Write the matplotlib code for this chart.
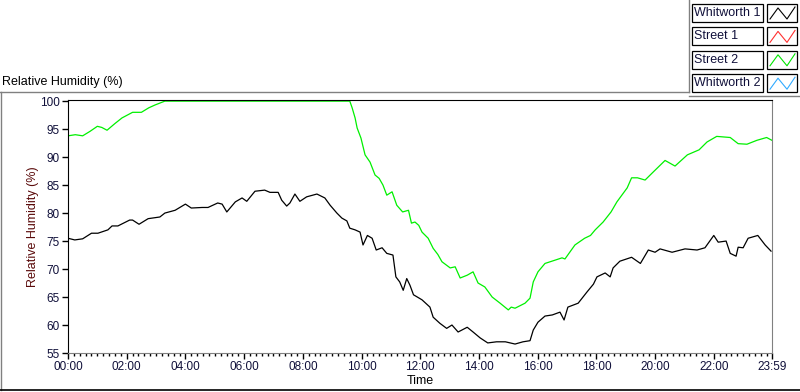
import numpy as np
import matplotlib
matplotlib.use('Agg')
import matplotlib.pyplot as plt
from matplotlib.lines import Line2D
from matplotlib.patches import Rectangle

# Relative humidity over one day

street2_t = [0.0, 0.25, 0.5, 0.75, 1.0, 1.15, 1.33, 1.6, 1.84, 2.2, 2.5, 2.75, 2.96, 3.3,
             9.6, 9.68, 9.78, 9.85, 9.98, 10.12, 10.29, 10.46, 10.6, 10.73, 10.86, 11.04,
             11.2, 11.4, 11.6, 11.7, 11.82, 11.95, 12.06, 12.27, 12.44, 12.6, 12.74, 13.02,
             13.19, 13.36, 13.6, 13.8, 13.97, 14.2, 14.45, 14.72, 15.0, 15.1, 15.23, 15.57,
             15.74, 15.85, 16.01, 16.25, 16.6, 16.83, 16.93, 17.27, 17.6, 17.8, 17.96, 18.23,
             18.5, 18.7, 19.05, 19.2, 19.4, 19.66, 19.93, 20.34, 20.68, 21.1, 21.5, 21.77,
             22.1, 22.56, 22.83, 23.13, 23.47, 23.8, 23.98]
street2_rh = [93.8, 94.0, 93.8, 94.6, 95.5, 95.3, 94.8, 96.0, 97.0, 98.0, 98.0, 98.8, 99.3, 100,
              100, 98.8, 97.0, 95.2, 93.4, 90.4, 89.1, 86.8, 86.2, 85.0, 83.2, 83.8,
              81.4, 80.2, 80.5, 78.2, 78.4, 77.8, 76.6, 75.5, 73.7, 72.6, 71.3, 70.2,
              70.4, 68.4, 68.9, 69.5, 67.5, 66.8, 65.0, 63.9, 62.7, 63.2, 63.0, 63.9,
              64.8, 67.7, 69.5, 71.0, 71.6, 72.0, 71.8, 74.3, 75.5, 76.0, 77.0, 78.4,
              80.2, 82.0, 84.5, 86.3, 86.3, 85.9, 87.3, 89.4, 88.4, 90.4, 91.3, 92.7,
              93.7, 93.5, 92.4, 92.3, 93.0, 93.5, 93.0]

whit1_t = [0.0, 0.23, 0.5, 0.8, 1.02, 1.36, 1.5, 1.7, 2.1, 2.2, 2.42, 2.73, 3.13, 3.3, 3.65,
           4.0, 4.2, 4.57, 4.77, 5.1, 5.25, 5.41, 5.7, 5.93, 6.09, 6.37, 6.7, 6.88, 7.16,
           7.28, 7.45, 7.56, 7.73, 7.9, 8.13, 8.48, 8.75, 8.93, 9.16, 9.33, 9.5, 9.6, 9.78,
           9.95, 10.05, 10.2, 10.36, 10.5, 10.7, 10.86, 11.07, 11.17, 11.3, 11.42, 11.54,
           11.65, 11.77, 11.9, 12.06, 12.33, 12.44, 12.67, 12.9, 13.08, 13.29, 13.6, 13.8,
           14.04, 14.3, 14.6, 14.9, 15.23, 15.5, 15.74, 15.85, 16.01, 16.25, 16.5, 16.76,
           16.9, 17.03, 17.38, 17.68, 17.9, 18.02, 18.3, 18.47, 18.57, 18.8, 19.2, 19.5,
           19.77, 20.0, 20.17, 20.58, 21.02, 21.43, 21.7, 22.0, 22.15, 22.42, 22.56, 22.76,
           22.83, 23.0, 23.17, 23.5, 23.75, 23.95]
whit1_rh = [75.5, 75.2, 75.4, 76.4, 76.4, 77.0, 77.7, 77.7, 78.75, 78.75, 78.0, 79.0, 79.3, 80.0, 80.5,
            81.6, 80.9, 81.0, 81.0, 81.8, 81.6, 80.2, 82.0, 82.7, 82.1, 83.9, 84.1, 83.7, 83.7,
            82.3, 81.25, 81.8, 83.4, 82.1, 82.9, 83.4, 82.7, 81.4, 80.0, 79.1, 78.6, 77.3, 77.0,
            76.6, 74.3, 76.0, 75.5, 73.4, 73.8, 72.8, 72.5, 68.6, 67.7, 66.2, 68.3,
            67.1, 65.4, 65.0, 64.5, 63.2, 61.4, 60.3, 59.4, 60.0, 58.75, 59.6, 58.75,
            57.7, 56.8, 57.0, 57.0, 56.6, 57.0, 57.2, 59.1, 60.5, 61.6, 61.8, 62.3,
            60.9, 63.2, 63.9, 65.9, 67.3, 68.6, 69.3, 68.6, 70.2, 71.4, 72.1, 71.0,
            73.4, 73.0, 73.6, 73.0, 73.6, 73.4, 73.8, 76.0, 74.8, 75.0, 72.8, 72.3,
            73.9, 73.8, 75.5, 76.0, 74.3, 73.2]

legend_names = ['Whitworth 1', 'Street 1', 'Street 2', 'Whitworth 2']
legend_colors = ['black', '#ff3030', '#00e600', '#30aaff']

x_ticks = [0, 2, 4, 6, 8, 10, 12, 14, 16, 18, 20, 22, 23 + 59 / 60]
x_labels = ['00:00', '02:00', '04:00', '06:00', '08:00', '10:00', '12:00',
            '14:00', '16:00', '18:00', '20:00', '22:00', '23:59']
y_ticks = [55, 60, 65, 70, 75, 80, 85, 90, 95, 100]

plt.rcParams['font.family'] = ['Liberation Sans', 'DejaVu Sans']

W, H = 800, 392
fig = plt.figure(figsize=(W / 100, H / 100), dpi=100)


def fx(x):
    return x / W


def fy(y):
    return 1 - y / H


# plot area in pixels: 68..772 wide, 100..353 tall
ax = fig.add_axes([fx(68), fy(353), fx(772) - fx(68), fy(100) - fy(353)])
ax.plot(whit1_t, whit1_rh, color='black', lw=0.9)
ax.plot(street2_t, street2_rh, color='#00f000', lw=0.9)

ax.set_xlim(0, 23 + 59 / 60)
ax.set_ylim(55, 100.2)  # small headroom so the 100 % plateau shows under the top edge
ax.set_xticks(x_ticks)
ax.set_xticklabels(x_labels)
ax.set_xticks(np.arange(0, 24, 0.2), minor=True)
ax.set_yticks(y_ticks)
ax.tick_params(axis='both', which='major', direction='out', length=4, width=1,
               labelsize=8.5, colors='black', labelcolor='#10103a', pad=2)
ax.tick_params(axis='x', which='minor', direction='out', length=2.5, width=1, colors='black')
for s in ['left', 'top']:
    ax.spines[s].set_color('black')
for s in ['right', 'bottom']:
    ax.spines[s].set_color('#808080')
ax.set_xlabel('Time', fontsize=9, labelpad=1)
ax.set_ylabel('Relative Humidity (%)', fontsize=9, color='#5a0a0a', labelpad=0.5)

# panel frame lines
grey = '#808080'
fig.add_artist(Line2D([fx(0), fx(689)], [fy(92), fy(92)], color=grey, lw=1))
fig.add_artist(Line2D([fx(689), fx(689)], [fy(0), fy(92)], color=grey, lw=1))
fig.add_artist(Line2D([fx(689), fx(800)], [fy(96), fy(96)], color=grey, lw=1))
fig.add_artist(Line2D([fx(0.5), fx(0.5)], [fy(92), fy(390)], color=grey, lw=1))
fig.add_artist(Line2D([fx(0), fx(800)], [fy(390), fy(390)], color='black', lw=1.2))
fig.text(fx(2), fy(82), 'Relative Humidity (%)', fontsize=9, va='center', ha='left',
         color='black')

# legend, one row per sensor
for i, (name, col) in enumerate(zip(legend_names, legend_colors)):
    top = 4 + i * 23.4
    bot = top + 18
    fig.add_artist(Rectangle((fx(692), fy(bot)), fx(763) - fx(692), fy(top) - fy(bot),
                             transform=fig.transFigure, facecolor='white',
                             edgecolor='black', lw=0.9))
    fig.text(fx(694), fy((top + bot) / 2), name, fontsize=9, va='center', ha='left',
             color='#10103a')
    fig.add_artist(Rectangle((fx(767), fy(bot)), fx(797) - fx(767), fy(top) - fy(bot),
                             transform=fig.transFigure, facecolor='white',
                             edgecolor='black', lw=0.9))
    zx = [770, 778, 787, 795]
    zy = [bot - 3, top + 4, bot - 3, top + 3]
    fig.add_artist(Line2D([fx(v) for v in zx], [fy(v) for v in zy], color=col, lw=0.8))

fig.savefig('out.png', dpi=100)
